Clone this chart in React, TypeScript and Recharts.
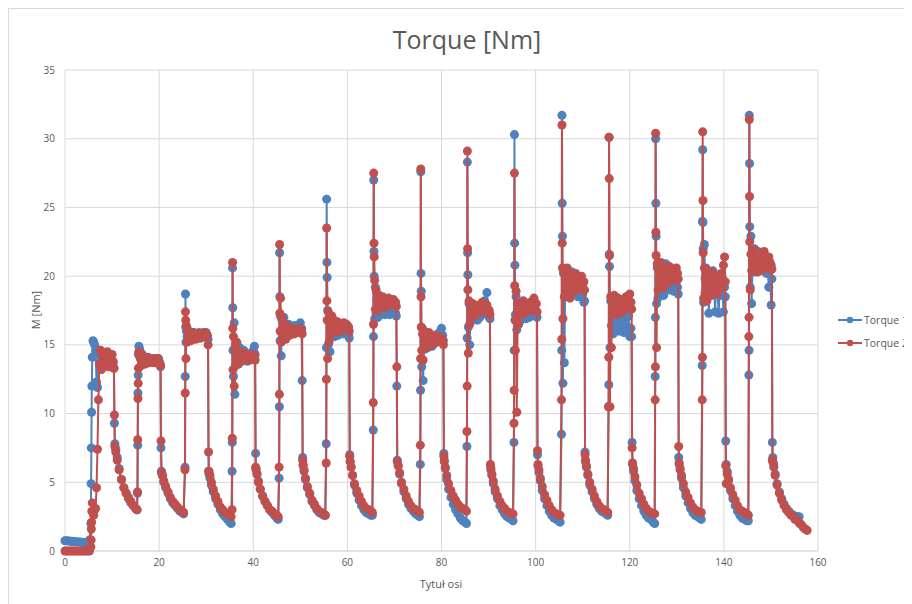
import { CartesianGrid, Scatter, ScatterChart, XAxis, YAxis, ZAxis } from "recharts"

const seriesNames = ["Torque 1", "Torque 2"]

const xTicks = [0, 20, 40, 60, 80, 100, 120, 140, 160]
const yTicks = [0, 5, 10, 15, 20, 25, 30, 35]

// rise time of every load step [s]
const cycleStarts = [5.5, 15.4, 25.5, 35.5, 45.5, 55.5, 65.5, 75.5, 85.4, 95.4, 105.5, 115.5, 125.4, 135.4, 145.3]

// sample times inside one step, relative to its rise [s]
const offsets = [
  0, 0.05, 0.1, 0.15, 0.2, 0.3, 0.45, 0.6, 0.8, 1.0,
  1.2, 1.4, 1.6, 1.8, 2.0, 2.25, 2.5, 2.75, 3.0, 3.25,
  3.5, 3.75, 4.0, 4.25, 4.5, 4.75, 4.9, 5.0, 5.1, 5.3,
  5.6, 6.0, 6.5, 7.0, 7.5, 8.0, 8.5, 9.0, 9.5, 9.8,
]

const idleTime = [0, 0.4, 0.8, 1.2, 1.6, 2.0, 2.4, 2.8, 3.2, 3.6, 4.0, 4.4, 4.8, 5.2]
const idleTorque1 = [0.75, 0.74, 0.72, 0.7, 0.7, 0.68, 0.68, 0.66, 0.65, 0.63, 0.62, 0.6, 0.58, 0.8]
const idleTorque2 = [0, 0, 0, 0, 0, 0, 0, 0, 0, 0, 0, 0, 0, 0]

const torque1Steps = [
  [2.0, 4.9, 7.5, 10.1, 12.0, 14.1, 15.3, 15.2, 15.0, 14.6, 12.3, 11.9, 14.5, 14.3, 14.6, 14.2, 14.4, 14.0, 14.3, 14.1, 14.2, 13.9, 14.1, 14.0, 13.8, 13.7, 13.3, 9.3, 7.8, 7.4, 6.8, 6.0, 5.2, 4.6, 4.2, 3.8, 3.5, 3.3, 3.1, 3.0],
  [4.2, 7.7, 11.5, 12.8, 14.3, 14.9, 14.7, 14.5, 14.2, 14.0, 13.6, 14.1, 13.9, 14.0, 13.8, 14.1, 13.9, 14.0, 13.8, 13.9, 13.8, 14.0, 13.9, 13.8, 14.0, 13.7, 13.4, 7.5, 5.8, 5.5, 5.0, 4.6, 4.2, 3.8, 3.5, 3.3, 3.1, 2.9, 2.8, 2.7],
  [6.1, 12.7, 18.7, 16.3, 15.2, 16.0, 15.6, 16.1, 15.5, 15.9, 15.4, 15.8, 15.6, 15.9, 15.5, 15.7, 15.8, 15.6, 15.9, 15.5, 15.7, 15.8, 15.6, 15.7, 15.9, 15.6, 15.4, 5.8, 5.6, 5.3, 4.8, 4.3, 3.8, 3.4, 3.0, 2.7, 2.5, 2.3, 2.1, 2.0],
  [5.8, 7.9, 20.6, 17.7, 14.6, 12.7, 16.6, 11.4, 15.0, 13.8, 14.5, 13.6, 14.8, 14.0, 14.3, 13.9, 14.6, 14.1, 14.2, 13.8, 14.3, 14.0, 14.4, 14.1, 14.6, 14.9, 14.3, 7.1, 6.0, 5.6, 5.1, 4.5, 4.0, 3.6, 3.3, 3.0, 2.8, 2.6, 2.4, 2.3],
  [5.3, 10.5, 21.7, 18.5, 15.3, 17.1, 14.2, 16.8, 15.5, 17.0, 16.1, 15.6, 16.3, 15.8, 16.5, 15.9, 16.2, 15.8, 16.1, 16.4, 15.9, 16.2, 16.0, 16.4, 16.6, 16.2, 12.4, 6.8, 6.2, 5.8, 5.2, 4.6, 4.1, 3.6, 3.3, 3.0, 2.8, 2.7, 2.6, 2.6],
  [7.8, 14.8, 25.6, 21.0, 19.9, 17.5, 15.0, 16.8, 14.5, 16.5, 15.7, 16.9, 16.0, 15.6, 16.4, 16.1, 15.7, 16.6, 16.2, 15.9, 16.3, 15.8, 16.2, 16.5, 16.0, 15.7, 15.5, 7.0, 6.5, 6.1, 5.5, 4.8, 4.2, 3.7, 3.3, 3.0, 2.8, 2.7, 2.6, 2.6],
  [8.8, 15.6, 27.0, 21.8, 20.0, 16.9, 19.2, 17.3, 18.4, 17.0, 18.6, 17.4, 17.2, 18.1, 17.3, 17.8, 17.2, 18.0, 17.4, 17.9, 17.2, 17.8, 17.5, 18.0, 17.6, 17.3, 17.1, 12.0, 6.6, 6.2, 5.6, 4.9, 4.3, 3.8, 3.4, 3.1, 2.9, 2.7, 2.6, 2.5],
  [6.3, 11.7, 27.6, 20.2, 18.9, 13.4, 16.2, 12.4, 15.6, 14.7, 15.9, 15.2, 14.8, 15.6, 15.0, 15.4, 14.9, 15.5, 15.1, 15.6, 15.2, 15.8, 15.4, 16.0, 16.2, 15.7, 15.3, 7.1, 6.6, 6.0, 5.2, 4.5, 3.9, 3.4, 3.0, 2.7, 2.4, 2.2, 2.1, 2.0],
  [7.6, 15.5, 28.3, 21.7, 20.1, 16.3, 18.0, 15.0, 17.6, 16.8, 17.9, 17.2, 16.9, 17.7, 17.3, 16.8, 17.5, 17.0, 17.8, 17.2, 17.6, 18.2, 17.4, 18.8, 17.5, 17.0, 16.9, 6.2, 5.9, 5.5, 4.9, 4.3, 3.8, 3.3, 3.0, 2.7, 2.5, 2.4, 2.3, 2.2],
  [7.9, 14.6, 30.3, 22.4, 20.8, 17.2, 18.5, 16.1, 17.9, 17.0, 17.6, 16.8, 17.4, 17.8, 17.1, 17.5, 16.9, 17.6, 17.3, 17.0, 17.7, 17.2, 17.5, 17.8, 17.1, 17.4, 17.0, 7.0, 6.2, 5.7, 5.1, 4.4, 3.8, 3.3, 2.9, 2.6, 2.4, 2.3, 2.2, 2.1],
  [8.5, 14.6, 31.7, 25.3, 22.9, 12.2, 20.2, 13.7, 19.5, 18.7, 20.0, 19.1, 18.6, 19.6, 18.9, 20.3, 19.2, 18.8, 19.7, 19.0, 18.5, 19.4, 18.9, 19.6, 18.7, 18.1, 18.2, 7.2, 6.5, 6.1, 5.5, 4.8, 4.3, 3.8, 3.4, 3.1, 2.9, 2.8, 2.7, 2.6],
  [10.5, 12.1, 30.1, 21.6, 20.7, 14.8, 18.2, 16.4, 17.5, 15.8, 18.3, 16.6, 17.9, 16.2, 17.6, 16.0, 18.1, 16.5, 17.3, 15.9, 16.8, 17.6, 16.3, 17.1, 15.6, 16.2, 15.6, 7.9, 6.3, 5.8, 5.1, 4.4, 3.8, 3.3, 2.9, 2.6, 2.4, 2.3, 2.1, 2.0],
  [12.7, 17.0, 30.0, 25.3, 22.9, 18.0, 20.6, 18.4, 19.8, 18.8, 20.4, 19.2, 20.1, 18.6, 19.7, 20.9, 19.3, 20.2, 19.0, 20.6, 19.4, 20.0, 18.9, 20.3, 19.6, 19.2, 18.7, 6.8, 6.3, 5.9, 5.3, 4.6, 4.0, 3.5, 3.1, 2.8, 2.6, 2.5, 2.4, 2.3],
  [13.5, 24.0, 29.2, 23.9, 22.0, 18.1, 22.3, 19.8, 20.6, 18.5, 19.9, 17.3, 20.2, 19.1, 18.6, 20.4, 19.3, 17.4, 19.8, 18.9, 17.3, 19.5, 18.6, 19.9, 17.4, 19.2, 18.5, 8.0, 6.3, 5.8, 5.1, 4.4, 3.8, 3.3, 2.9, 2.6, 2.4, 2.3, 2.2, 2.2],
  [12.8, 14.6, 31.7, 28.2, 23.6, 19.2, 22.9, 18.0, 21.4, 20.3, 22.0, 20.8, 21.5, 20.5, 21.8, 20.9, 21.2, 20.4, 21.6, 20.6, 21.0, 20.2, 21.3, 19.2, 20.5, 17.9, 19.8, 7.9, 6.8, 6.3, 5.6, 4.9, 4.3, 3.8, 3.4, 3.1, 2.9, 2.7, 2.6, 2.5],
]

const torque2Steps = [
  [0.3, 0.8, 1.6, 2.1, 2.9, 3.5, 2.8, 2.6, 3.0, 3.1, 4.6, 7.4, 11.0, 13.6, 14.6, 13.2, 14.3, 13.5, 14.4, 13.8, 14.5, 13.4, 14.2, 13.9, 14.3, 13.8, 13.3, 9.9, 7.6, 7.2, 6.6, 5.9, 5.2, 4.6, 4.2, 3.9, 3.6, 3.3, 3.1, 3.0],
  [4.3, 8.1, 11.1, 12.2, 13.3, 14.5, 14.2, 14.0, 13.5, 14.3, 13.7, 14.0, 13.6, 14.1, 13.8, 14.0, 13.7, 13.9, 13.8, 14.0, 13.7, 13.9, 13.8, 14.0, 13.8, 13.6, 13.5, 8.0, 5.7, 5.5, 5.1, 4.7, 4.3, 3.9, 3.6, 3.4, 3.2, 3.0, 2.9, 2.8],
  [5.9, 11.5, 17.4, 16.8, 14.0, 16.4, 15.2, 16.0, 15.4, 15.9, 15.3, 15.8, 15.5, 15.9, 15.6, 15.4, 15.8, 15.6, 15.7, 15.5, 15.8, 15.6, 15.9, 15.7, 15.8, 15.7, 15.0, 7.2, 5.8, 5.5, 5.0, 4.5, 4.0, 3.6, 3.2, 3.0, 2.8, 2.7, 2.6, 2.5],
  [3.0, 8.2, 21.0, 16.2, 13.2, 15.6, 12.0, 14.8, 13.5, 15.2, 14.0, 13.7, 14.5, 14.1, 13.8, 14.3, 14.0, 14.4, 13.9, 14.2, 14.1, 13.9, 14.2, 14.0, 14.1, 14.3, 13.9, 6.1, 5.9, 5.6, 5.0, 4.5, 4.0, 3.6, 3.3, 3.0, 2.9, 2.7, 2.6, 2.5],
  [6.1, 11.4, 22.3, 17.3, 16.0, 18.4, 15.2, 16.9, 15.6, 16.6, 16.0, 15.4, 16.4, 15.8, 16.1, 15.7, 16.2, 15.9, 16.0, 15.8, 16.1, 15.9, 16.0, 16.2, 15.9, 16.1, 15.8, 6.6, 6.3, 5.9, 5.3, 4.7, 4.2, 3.7, 3.4, 3.1, 2.9, 2.8, 2.7, 2.6],
  [6.4, 12.5, 23.5, 18.2, 16.8, 14.0, 17.4, 15.2, 16.9, 15.8, 17.1, 16.0, 16.6, 16.2, 15.9, 16.7, 16.1, 16.4, 16.0, 16.5, 16.2, 16.6, 16.3, 16.5, 16.4, 16.3, 16.0, 6.9, 6.5, 6.1, 5.5, 4.9, 4.4, 4.0, 3.6, 3.3, 3.1, 3.0, 2.9, 2.8],
  [10.8, 16.5, 27.5, 22.4, 21.4, 19.7, 17.6, 19.0, 18.2, 17.5, 18.6, 18.0, 18.4, 17.8, 18.5, 18.1, 17.7, 18.3, 18.0, 18.4, 17.9, 18.2, 18.0, 18.3, 17.9, 18.1, 17.8, 13.4, 6.5, 6.2, 5.7, 5.0, 4.5, 4.0, 3.6, 3.3, 3.1, 3.0, 2.9, 2.8],
  [7.7, 14.0, 27.8, 18.5, 16.3, 14.6, 15.8, 13.9, 16.0, 15.1, 15.6, 14.8, 15.4, 15.9, 15.2, 15.6, 15.0, 15.4, 15.7, 15.2, 15.5, 15.3, 15.6, 15.4, 15.5, 15.3, 15.0, 6.9, 6.5, 6.1, 5.5, 4.9, 4.4, 4.0, 3.7, 3.4, 3.2, 3.1, 3.0, 2.9],
  [8.7, 12.0, 29.1, 22.0, 19.0, 14.4, 18.2, 16.5, 17.8, 17.2, 18.0, 17.5, 17.1, 17.9, 17.4, 17.8, 17.3, 17.7, 17.5, 18.1, 17.6, 17.8, 17.4, 17.9, 17.6, 17.5, 17.2, 6.3, 6.0, 5.6, 5.1, 4.5, 4.0, 3.6, 3.3, 3.1, 2.9, 2.8, 2.7, 2.7],
  [9.3, 11.7, 27.5, 19.3, 16.8, 14.6, 18.9, 10.1, 17.6, 16.5, 18.0, 17.3, 17.7, 17.2, 18.2, 17.5, 17.8, 17.4, 17.9, 17.6, 18.1, 17.5, 17.8, 18.4, 17.6, 18.0, 17.4, 7.3, 6.3, 5.9, 5.3, 4.7, 4.1, 3.7, 3.3, 3.0, 2.8, 2.7, 2.6, 2.6],
  [11.0, 15.4, 31.0, 22.4, 20.6, 16.9, 20.3, 18.5, 19.8, 19.2, 20.6, 19.0, 19.6, 18.4, 20.1, 19.3, 19.8, 18.9, 20.2, 19.4, 19.0, 19.7, 19.2, 20.0, 19.4, 19.6, 19.0, 7.0, 6.6, 6.2, 5.6, 5.0, 4.5, 4.0, 3.6, 3.3, 3.1, 3.0, 2.9, 2.8],
  [10.5, 14.1, 30.1, 27.1, 21.5, 10.5, 18.5, 14.8, 18.1, 17.3, 18.6, 17.5, 18.0, 17.2, 18.4, 17.7, 17.9, 18.3, 17.4, 18.0, 17.6, 18.5, 17.8, 18.2, 18.7, 18.1, 17.6, 7.5, 6.4, 6.0, 5.4, 4.8, 4.2, 3.8, 3.4, 3.1, 2.9, 2.8, 2.7, 2.7],
  [11.0, 13.4, 30.4, 23.2, 21.5, 14.8, 20.9, 19.0, 20.5, 19.4, 21.0, 19.8, 20.4, 19.2, 20.6, 19.6, 20.2, 19.5, 20.7, 19.9, 20.3, 19.7, 20.5, 19.8, 20.6, 20.2, 19.8, 7.6, 6.4, 6.0, 5.5, 4.9, 4.3, 3.9, 3.5, 3.2, 3.0, 2.9, 2.8, 2.8],
  [11.0, 14.1, 30.5, 25.5, 21.7, 18.4, 20.6, 18.8, 19.9, 18.2, 20.4, 19.0, 19.7, 18.6, 20.3, 19.4, 18.9, 20.0, 19.2, 18.7, 19.8, 19.1, 20.2, 19.5, 20.8, 21.4, 19.6, 6.2, 4.9, 5.6, 5.2, 4.6, 4.1, 3.7, 3.3, 3.0, 2.9, 2.8, 2.7, 2.6],
  [15.6, 17.0, 31.4, 25.8, 22.5, 19.0, 21.6, 20.4, 21.2, 20.7, 21.9, 20.8, 21.4, 20.3, 21.5, 20.6, 21.3, 21.0, 20.5, 21.8, 20.9, 21.2, 20.6, 21.4, 21.0, 20.8, 20.5, 6.6, 6.5, 6.1, 5.5, 4.8, 4.2, 3.7, 3.3, 3.0, 2.8, 2.6, 2.5, 2.3],
]

const tailTime1 = [155.7, 156.0]
const tailTorque1 = [2.5, 2.5]
const tailTime2 = [155.7, 156.1, 156.5, 156.9, 157.3, 157.7]
const tailTorque2 = [2.2, 2.0, 1.9, 1.7, 1.6, 1.5]

type Pt = { t: number; v: number }

function buildSeries(idleV: number[], steps: number[][], tailT: number[], tailV: number[]): Pt[] {
  const pts: Pt[] = idleTime.map((t, i) => ({ t, v: idleV[i] }))
  steps.forEach((row, k) => {
    row.forEach((v, i) => {
      pts.push({ t: Math.round((cycleStarts[k] + offsets[i]) * 100) / 100, v })
    })
  })
  tailT.forEach((t, i) => pts.push({ t, v: tailV[i] }))
  return pts
}

const torque1 = buildSeries(idleTorque1, torque1Steps, tailTime1, tailTorque1)
const torque2 = buildSeries(idleTorque2, torque2Steps, tailTime2, tailTorque2)

const BLUE = "#4f81bd"
const RED = "#c0504d"
const TEXT = "#595959"
const FONT = "'Open Sans', 'Liberation Sans', sans-serif"

function LegendItem({ color, label, top }: { color: string; label: string; top: number }) {
  return (
    <div style={{ position: "absolute", left: 829, top, display: "flex", alignItems: "center", whiteSpace: "nowrap" }}>
      <svg width={24} height={10}>
        <line x1={0} y1={5} x2={24} y2={5} stroke={color} strokeWidth={2} />
        <circle cx={12} cy={5} r={3.2} fill={color} />
      </svg>
      <span style={{ fontSize: 10.5, color: TEXT, marginLeft: 2, lineHeight: "12px" }}>{label}</span>
    </div>
  )
}

export default function App() {
  return (
    <div
      style={{
        position: "relative",
        width: 903,
        height: 595,
        borderTop: "1px solid #d9d9d9",
        borderLeft: "1px solid #d9d9d9",
        overflow: "hidden",
        fontFamily: FONT,
        background: "#fff",
      }}
    >
      <style>{"html,body{overflow:hidden}"}</style>
      <div
        style={{
          position: "absolute",
          left: 0,
          width: 916,
          top: 13,
          textAlign: "center",
          fontSize: 25,
          color: TEXT,
        }}
      >
        Torque [Nm]
      </div>
      <ScatterChart width={903} height={595} margin={{ top: 61, right: 94, left: 16, bottom: 33 }}>
        <CartesianGrid stroke="#d9d9d9" />
        <XAxis
          type="number"
          dataKey="t"
          domain={[0, 160]}
          ticks={xTicks}
          tickLine={false}
          axisLine={{ stroke: "#d9d9d9" }}
          tick={{ fill: TEXT, fontSize: 10, fontFamily: FONT }}
          height={20}
        />
        <YAxis
          type="number"
          dataKey="v"
          domain={[0, 35]}
          ticks={yTicks}
          tickLine={false}
          axisLine={false}
          tickMargin={4}
          tick={{ fill: TEXT, fontSize: 10, fontFamily: FONT }}
          width={40}
        />
        <ZAxis range={[34, 34]} />
        <Scatter
          name={seriesNames[0]}
          data={torque1}
          fill={BLUE}
          line={{ stroke: BLUE, strokeWidth: 2 }}
          shape="circle"
          isAnimationActive={false}
        />
        <Scatter
          name={seriesNames[1]}
          data={torque2}
          fill={RED}
          line={{ stroke: RED, strokeWidth: 2 }}
          shape="circle"
          isAnimationActive={false}
        />
      </ScatterChart>
      <div style={{ position: "absolute", left: 432, top: 567, transform: "translateX(-50%)", fontSize: 11, color: TEXT }}>
        Tytuł osi
      </div>
      <div
        style={{
          position: "absolute",
          left: 26,
          top: 301,
          transform: "translate(-50%, -50%) rotate(-90deg)",
          fontSize: 11,
          color: TEXT,
          whiteSpace: "nowrap",
        }}
      >
        M [Nm]
      </div>
      <LegendItem color={BLUE} label={seriesNames[0]} top={305} />
      <LegendItem color={RED} label={seriesNames[1]} top={328} />
    </div>
  )
}
